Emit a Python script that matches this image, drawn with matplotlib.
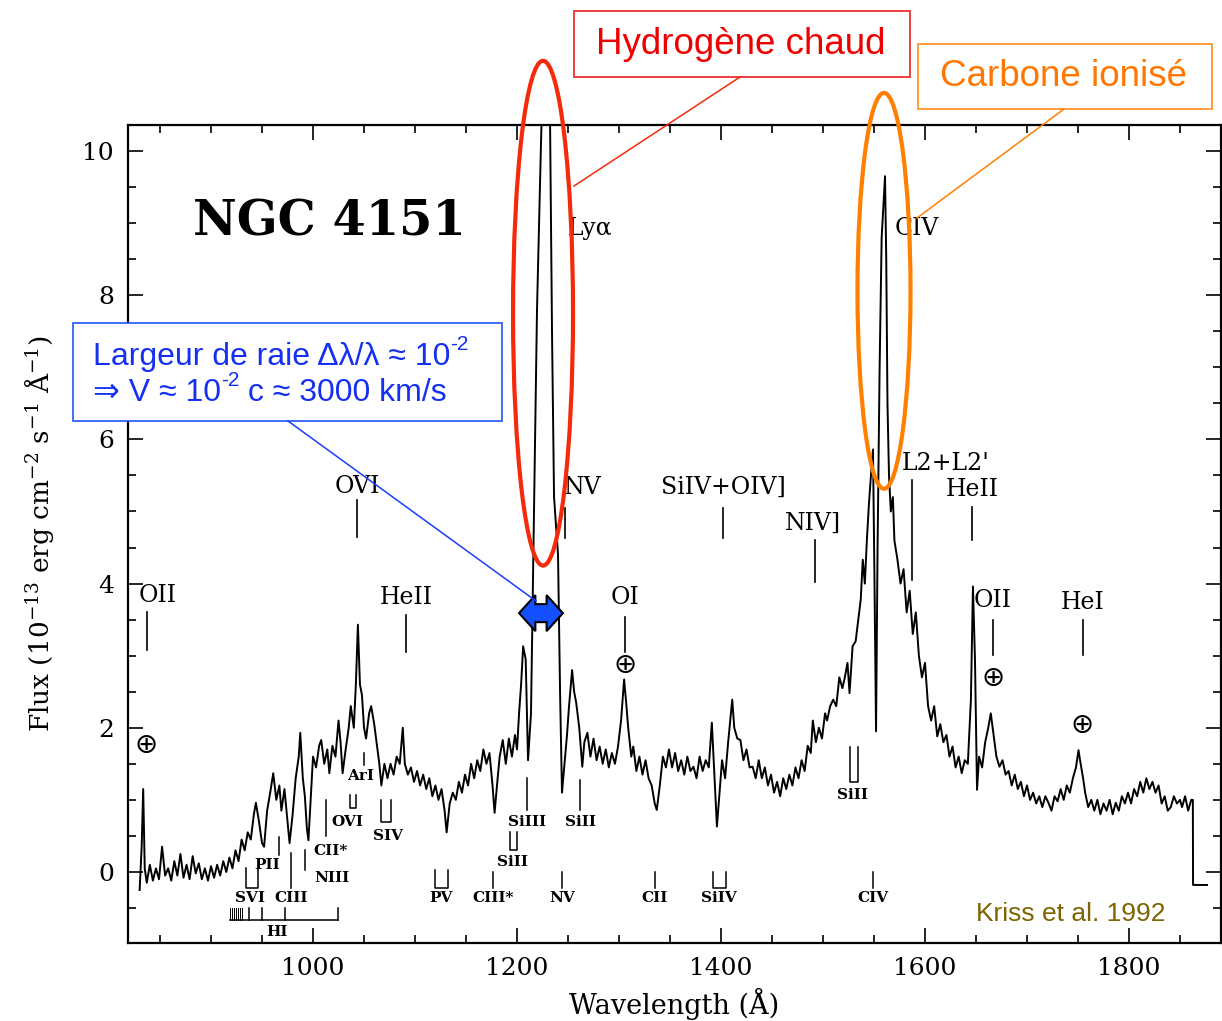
import matplotlib
matplotlib.use("Agg")
from matplotlib import pyplot as plt
from matplotlib.patches import Ellipse, Rectangle, Polygon
from matplotlib.lines import Line2D
from matplotlib.ticker import MultipleLocator

# NGC 4151 UV spectrum (Kriss et al. 1992)
wl_far = [830, 832, 833.5, 835, 837, 840, 843, 846, 849, 852, 855, 858, 861, 864, 867,
          870, 873, 876, 879, 882, 885, 888, 891, 894, 897, 900, 903, 906, 909, 912,
          915, 918, 921, 924, 927, 930, 933, 936, 939, 942, 944, 947, 950, 952, 955,
          958, 961, 964, 967, 969, 972, 975, 977, 980, 983, 986, 987.5, 990, 992, 994,
          995.5, 998]
fx_far = [-0.25, 0.35, 1.15, 0.05, -0.15, 0.1, -0.12, 0.05, -0.1, 0.35, -0.05, 0.05, -0.12, 0.15, -0.05,
          0.25, -0.08, 0.1, -0.1, 0.22, -0.02, 0.12, -0.1, 0.05, -0.12, 0.08, -0.08, 0.1, -0.05, 0.15,
          0.0, 0.2, 0.05, 0.3, 0.15, 0.45, 0.3, 0.55, 0.45, 0.8, 0.96, 0.7, 0.4, 0.35, 0.85,
          1.1, 1.37, 1.0, 1.2, 0.85, 1.15, 0.7, 0.4, 0.8, 1.3, 1.6, 1.93, 1.3, 1.05, 0.6,
          0.44, 1.1]

wl_mid = [1000, 1003, 1006, 1008, 1011, 1014, 1016, 1019, 1022, 1025, 1027, 1029, 1032, 1035, 1037,
          1040, 1042, 1044, 1046, 1048, 1050, 1052, 1055, 1057, 1060, 1062, 1065, 1067, 1070, 1073,
          1076, 1079, 1082, 1085, 1088, 1090, 1093, 1096, 1099, 1102, 1105, 1108, 1111, 1114, 1117,
          1120, 1123, 1126, 1129, 1131, 1134, 1137, 1140, 1143, 1146, 1149, 1152, 1155, 1158, 1161,
          1164, 1167, 1170, 1173, 1176, 1178, 1181, 1183, 1186, 1189, 1192, 1195, 1198, 1200, 1202,
          1204, 1206, 1208.5]
fx_mid = [1.6, 1.45, 1.75, 1.83, 1.5, 1.7, 1.37, 1.75, 1.6, 2.1, 1.8, 1.37, 1.7, 2.0, 2.3,
          2.0, 2.6, 3.43, 2.6, 2.45, 2.0, 1.85, 2.2, 2.3, 2.05, 1.83, 1.5, 1.2, 1.5, 1.3,
          1.5, 1.35, 1.6, 1.5, 2.0, 1.5, 1.35, 1.45, 1.25, 1.4, 1.2, 1.35, 1.15, 1.3, 1.05,
          1.2, 1.0, 1.15, 0.85, 0.55, 0.95, 1.1, 1.0, 1.25, 1.1, 1.35, 1.2, 1.5, 1.3, 1.55,
          1.4, 1.7, 1.5, 1.65, 1.2, 0.82, 1.3, 1.6, 1.83, 1.5, 1.85, 1.6, 1.9, 1.7, 2.2,
          2.6, 3.13, 2.95]

# Ly-alpha goes off scale
wl_lya = [1210.8, 1213.7, 1216.7, 1219.6, 1223.5, 1226, 1229, 1231.4, 1232.4, 1234.3,
          1236.3, 1238.2, 1240.2, 1242.2, 1244.1]
fx_lya = [1.55, 2.2, 5.0, 7.8, 10.1, 11.5, 12.0, 11.0, 10.4, 7.5,
          5.2, 4.8, 4.4, 2.5, 1.1]

wl_red = [1246.5, 1249, 1251, 1254, 1256, 1258, 1261, 1264, 1266, 1269, 1272, 1275, 1278, 1281, 1284,
          1287, 1290, 1293, 1296, 1299, 1302, 1305, 1307, 1309, 1312, 1314, 1317, 1320, 1323, 1326,
          1329, 1332, 1335, 1337, 1340, 1343, 1346, 1349, 1352, 1355, 1358, 1361, 1364, 1367, 1370,
          1373, 1376, 1379, 1382, 1385, 1388, 1391, 1393, 1396, 1398, 1401, 1404, 1407, 1409, 1411,
          1413, 1416, 1419, 1422, 1425, 1428, 1431, 1434, 1437, 1440, 1443, 1446, 1449, 1452, 1455,
          1458, 1461, 1464, 1467, 1470, 1473, 1476, 1479, 1482, 1485, 1488, 1490, 1493, 1496, 1499,
          1502, 1504, 1507, 1510, 1513, 1516, 1519, 1521, 1524, 1526, 1529, 1532, 1535, 1537, 1539,
          1541, 1543, 1545, 1547, 1549, 1550.5]
fx_red = [1.5, 1.9, 2.3, 2.8, 2.5, 2.35, 2.0, 1.46, 1.8, 1.93, 1.6, 1.85, 1.55, 1.74, 1.5,
          1.7, 1.45, 1.65, 1.5, 1.74, 2.1, 2.67, 2.35, 2.0, 1.6, 1.74, 1.4, 1.6, 1.35, 1.55,
          1.3, 1.2, 0.95, 0.86, 1.2, 1.6, 1.45, 1.7, 1.45, 1.65, 1.4, 1.55, 1.35, 1.6, 1.4,
          1.46, 1.3, 1.6, 1.4, 1.55, 1.45, 2.07, 1.5, 0.63, 1.0, 1.55, 1.3, 1.8, 2.1, 2.39,
          2.0, 1.85, 1.83, 1.55, 1.7, 1.45, 1.46, 1.3, 1.55, 1.3, 1.45, 1.2, 1.35, 1.1, 1.25,
          1.05, 1.3, 1.15, 1.35, 1.2, 1.45, 1.3, 1.55, 1.4, 1.75, 1.65, 2.1, 1.8, 2.0, 1.85,
          2.2, 2.1, 2.3, 2.39, 2.3, 2.7, 2.55, 2.67, 2.9, 2.48, 3.13, 3.2, 3.55, 3.78, 4.33,
          4.0, 4.6, 5.1, 5.5, 5.86, 4.0]

wl_civ = [1552, 1553.5, 1555.5, 1557.5, 1559.5, 1560.8, 1562, 1563.2, 1564.7, 1566.5, 1568.5, 1570, 1573, 1576, 1579,
          1582, 1585, 1588, 1591, 1594, 1597, 1600, 1603, 1606, 1609, 1612, 1615, 1618, 1621, 1624,
          1627, 1630, 1633, 1636, 1639, 1642, 1645, 1647, 1649, 1651, 1653, 1656, 1659, 1662, 1664.5,
          1667, 1670, 1673, 1676, 1679, 1682, 1685, 1688, 1691, 1694, 1697, 1700, 1703, 1706, 1709,
          1712, 1715, 1718, 1721, 1724, 1727, 1730, 1733, 1736, 1739, 1742, 1745, 1748, 1750.5, 1752,
          1755, 1757, 1760, 1763, 1766, 1769, 1772, 1775, 1778, 1781, 1784, 1787, 1790, 1793, 1796,
          1799, 1802, 1805, 1808, 1811, 1814, 1817, 1820, 1823, 1826, 1829, 1832, 1835, 1838, 1841,
          1844, 1847, 1850, 1852, 1855, 1858, 1861, 1862.6, 1862.8, 1876.5]
fx_civ = [1.95, 4.5, 7.0, 8.8, 9.3, 9.65, 8.5, 6.5, 5.5, 5.0, 5.2, 4.6, 4.33, 4.0, 4.2,
          3.6, 3.9, 3.3, 3.6, 3.0, 2.7, 2.9, 2.3, 2.1, 2.3, 1.88, 2.05, 1.8, 1.9, 1.6,
          1.74, 1.45, 1.6, 1.37, 1.55, 1.5, 2.39, 3.96, 2.94, 1.14, 1.6, 1.45, 1.8, 2.0, 2.2,
          1.93, 1.6, 1.46, 1.55, 1.35, 1.4, 1.2, 1.35, 1.15, 1.25, 1.05, 1.2, 1.0, 1.1, 0.95,
          1.05, 0.9, 1.05, 0.96, 0.85, 1.05, 0.98, 1.15, 1.0, 1.2, 1.1, 1.3, 1.45, 1.69, 1.55,
          1.3, 1.1, 0.9, 1.0, 0.85, 1.0, 0.8, 0.95, 0.85, 1.0, 0.8, 0.96, 0.85, 1.05, 0.95,
          1.1, 0.95, 1.15, 1.05, 1.25, 1.1, 1.3, 1.15, 1.25, 1.1, 1.2, 0.95, 1.05, 0.85, 0.9,
          1.05, 0.95, 1.0, 0.9, 1.05, 0.85, 1.0, 1.0, -0.18, -0.18]

wavelength = wl_far + wl_mid + wl_lya + wl_red + wl_civ
flux = fx_far + fx_mid + fx_lya + fx_red + fx_civ

# emission line IDs above the spectrum
up_names = ['OII', 'OVI', 'HeII', 'Lyα', 'NV', 'OI', 'SiIV+OIV]', 'NIV]', 'CIV', "L2+L2'", 'HeII', 'OII', 'HeI']
up_tick_wl = [837.3, 1043.1, 1091.2, None, 1247.1, 1305.9, 1402.0, 1492.2, None, 1587.3, 1646.1, 1666.7, 1754.9]
up_tick_y = [(3.08, 3.61), (4.65, 5.16), (3.05, 3.56), None, (4.63, 5.05), (3.05, 3.54), (4.63, 5.05),
             (4.02, 4.6), None, (4.05, 5.44), (4.6, 5.06), (3.01, 3.5), (3.01, 3.5)]
up_label_x = [848.0, 1043.1, 1091.2, 1271.6, 1264.7, 1305.9, 1402.0, 1490.2, 1592.2, 1620.6, 1646.1, 1666.7, 1754.9]
up_label_y = [3.83, 5.34, 3.81, 8.93, 5.33, 3.8, 5.33, 4.83, 8.93, 5.67, 5.31, 3.76, 3.74]

# geocoronal / airglow features
earth_wl = [836.3, 1305.9, 1666.7, 1753.9]
earth_y = [1.76, 2.87, 2.69, 2.04]

# absorption line IDs (sep > 0 marks a doublet)
low_names = ['ArI', 'OVI', 'SIV', 'CII*', 'NIII', 'PII', 'CIII', 'SVI', 'SiIII', 'SiII', 'SiII',
             'CIII*', 'PV', 'NV', 'CII', 'SiIV', 'CIV', 'SiII']
low_wl = [1050.0, 1039.2, 1071.6, 1012.7, 992.2, 966.7, 978.4, 940.2, 1209.8, 1196.6, 1261.8,
          1176.5, 1126.0, 1244.1, 1335.3, 1398.5, 1549.0, 1530.4]
low_sep = [0, 5.9, 9.8, 0, 0, 0, 0, 11.8, 0, 6.9, 0, 0, 12.8, 0, 0, 12.7, 0, 7.8]
low_tick = [(1.48, 1.65), (0.89, 1.07), (0.69, 1.0), (0.5, 1.0), (0.03, 0.31), (0.24, 0.49), (-0.22, 0.26),
            (-0.22, 0.06), (0.86, 1.3), (0.31, 0.55), (0.86, 1.28), (-0.22, 0.0), (-0.22, 0.03),
            (-0.22, 0.0), (-0.22, 0.0), (-0.22, 0.0), (-0.22, 0.0), (1.25, 1.73)]
low_label_x = [1047.1, 1033.3, 1073.5, 1016.7, 1018.6, 954.9, 978.4, 938.2, 1209.8, 1195.1, 1261.8,
               1176.5, 1125.5, 1244.1, 1335.3, 1398.0, 1549.0, 1529.4]
low_label_y = [1.33, 0.69, 0.5, 0.29, -0.08, 0.1, -0.36, -0.36, 0.69, 0.14, 0.69,
               -0.36, -0.36, -0.36, -0.36, -0.36, -0.36, 1.07]

# Lyman series of HI
hi_comb = [918.6, 920.6, 922.5, 924.5, 926.5, 928.4, 930.4]
hi_series = [937.3, 950.0, 972.5, 1024.5]

plt.rcParams['font.family'] = 'DejaVu Serif'
plt.rcParams['mathtext.fontset'] = 'dejavuserif'
sans = ['Liberation Sans', 'DejaVu Sans']

W, H = 1222, 1021
fig = plt.figure(figsize=(W / 100, H / 100), dpi=100)
ax = fig.add_axes([128 / W, 1 - 943 / H, 1093 / W, 818 / H])


def fxy(px, py):
    return px / W, 1 - py / H


ax.plot(wavelength, flux, color='black', lw=1.4, zorder=3)
ax.xaxis.set_major_locator(MultipleLocator(200))
ax.xaxis.set_minor_locator(MultipleLocator(50))
ax.yaxis.set_major_locator(MultipleLocator(2))
ax.yaxis.set_minor_locator(MultipleLocator(0.5))
ax.tick_params(which='both', direction='in', top=True, right=True, width=1.2, labelsize=18, pad=10)
ax.tick_params(which='major', length=11)
ax.tick_params(which='minor', length=5.5)
for s in ax.spines.values():
    s.set_linewidth(1.6)
ax.set_xlabel('Wavelength (Å)', fontsize=19.5, labelpad=6)
ax.set_ylabel('Flux (10$^{-13}$ erg cm$^{-2}$ s$^{-1}$ Å$^{-1}$)', fontsize=19, labelpad=19)

ax.text(882.4, 9.01, 'NGC 4151', fontsize=34.5, fontweight='bold', ha='left', va='center')

for name, tw, ty, lx, ly in zip(up_names, up_tick_wl, up_tick_y, up_label_x, up_label_y):
    ax.text(lx, ly, name, fontsize=17, ha='center', va='center')
    if tw is not None:
        ax.plot([tw, tw], ty, color='black', lw=1.2)

for ex, ey in zip(earth_wl, earth_y):
    ax.text(ex, ey, '⊕', fontsize=20, family='DejaVu Sans', ha='center', va='center')

for name, w, sep, ty, lx, ly in zip(low_names, low_wl, low_sep, low_tick, low_label_x, low_label_y):
    ax.text(lx, ly, name, fontsize=11, fontweight='bold', ha='center', va='center')
    if sep > 0:
        ax.plot([w - sep / 2, w - sep / 2, w + sep / 2, w + sep / 2], [ty[1], ty[0], ty[0], ty[1]],
                color='black', lw=1.1)
    else:
        ax.plot([w, w], ty, color='black', lw=1.1)

ax.plot([hi_comb[0], hi_series[-1]], [-0.67, -0.67], color='black', lw=1.1)
for w in hi_comb:
    ax.plot([w, w], [-0.5, -0.67], color='black', lw=0.7)
for w in hi_series:
    ax.plot([w, w], [-0.5, -0.67], color='black', lw=1.1)
ax.text(964.7, -0.83, 'HI', fontsize=11, fontweight='bold', ha='center', va='center')

ax.text(1835.3, -0.58, 'Kriss et al. 1992', fontsize=19, family=sans, color='#7d6400',
        ha='right', va='center')

# highlight ellipses
red = '#f52a0a'
orange = '#ff8000'
ax.add_patch(Ellipse((1225.5, 7.75), 58.8, 7.0, fill=False, ec=red, lw=3, clip_on=False, zorder=6))
ax.add_patch(Ellipse((1559.8, 8.06), 52.0, 5.49, fill=False, ec=orange, lw=3, clip_on=False, zorder=6))

# double arrow showing the line width
cx, cy, half, head, hh, sh = 1223.5, 3.59, 21.5, 16.0, 0.25, 0.125
arrow = [(cx - half, cy), (cx - half + head, cy + hh), (cx - half + head, cy + sh),
         (cx + half - head, cy + sh), (cx + half - head, cy + hh), (cx + half, cy),
         (cx + half - head, cy - hh), (cx + half - head, cy - sh), (cx - half + head, cy - sh),
         (cx - half + head, cy - hh)]
ax.add_patch(Polygon(arrow, closed=True, fc='#1450ff', ec='black', lw=1.5, clip_on=False, zorder=7))

# red and orange boxes (figure pixel positions)
fig.add_artist(Rectangle(fxy(574, 77), 336 / W, 66 / H, transform=fig.transFigure,
                         fill=False, ec='#ee1c1c', lw=1.2))
fig.text(*fxy(741, 45), 'Hydrogène chaud', fontsize=26.5, family=sans, color='#ee0000',
         ha='center', va='center')
fig.add_artist(Line2D(*zip(fxy(740, 77), fxy(574, 186)), transform=fig.transFigure, color=red, lw=1.1))

fig.add_artist(Rectangle(fxy(918, 109), 294 / W, 65 / H, transform=fig.transFigure,
                         fill=False, ec='#ff8c1a', lw=1.2))
fig.text(*fxy(1063, 77), 'Carbone ionisé', fontsize=26.5, family=sans, color='#ff7700',
         ha='center', va='center')
fig.add_artist(Line2D(*zip(fxy(1064, 109), fxy(917, 218)), transform=fig.transFigure, color=orange, lw=1.1))

# blue box, kept inside the axes drawing so the text sits above the white fill
blue = '#1530f0'
ax.add_patch(Rectangle(fxy(73, 421), 429 / W, 98 / H, transform=fig.transFigure,
                       fc='white', ec='#2255ff', lw=1.2, clip_on=False, zorder=8))
ax.add_line(Line2D(*zip(fxy(288, 421), fxy(536, 601)), transform=fig.transFigure,
                   color='#1a3cff', lw=1.1, clip_on=False, zorder=8))
t1 = ax.text(*fxy(93, 357), 'Largeur de raie Δλ/λ ≈ 10', transform=fig.transFigure, fontsize=23,
             family=sans, color=blue, ha='left', va='center', clip_on=False, zorder=9)
ax.annotate('-2', xy=(1, 0.6), xycoords=t1, fontsize=15, family=sans, color=blue,
            ha='left', va='bottom', annotation_clip=False, zorder=9)
t2 = ax.text(*fxy(93, 393), '⇒ V ≈ 10', transform=fig.transFigure, fontsize=23,
             family=sans, color=blue, ha='left', va='center', clip_on=False, zorder=9)
s2 = ax.annotate('-2', xy=(1, 0.6), xycoords=t2, fontsize=15, family=sans, color=blue,
                 ha='left', va='bottom', annotation_clip=False, zorder=9)
ax.annotate(' c ≈ 3000 km/s', xy=(1, 0), xycoords=(s2, t2), fontsize=23, family=sans, color=blue,
            ha='left', va='bottom', annotation_clip=False, zorder=9)

ax.set_xlim(818.6, 1890.2)
ax.set_ylim(-0.985, 10.36)

fig.savefig('out.png', dpi=100)
